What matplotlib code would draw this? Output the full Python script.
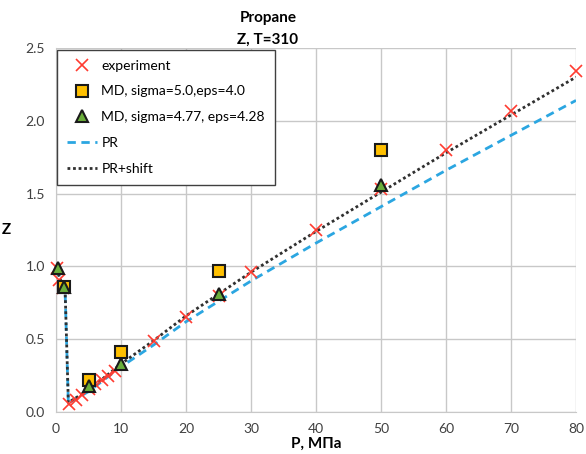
import matplotlib
matplotlib.use("Agg")
import matplotlib.pyplot as plt

plt.rcParams['font.family'] = ['Lato', 'DejaVu Sans']

# Experimental data
exp_P = [0.1, 0.5, 1.0, 2, 3, 4, 5, 6, 7, 8, 9, 15, 20, 25, 30, 40, 50, 60, 70, 80]
exp_Z = [0.99, 0.91, 0.85, 0.055, 0.085, 0.12, 0.155, 0.19, 0.22, 0.25, 0.28,
         0.49, 0.655, 0.80, 0.96, 1.25, 1.53, 1.80, 2.07, 2.34]

# MD, sigma=5.0, eps=4.0
md1_P = [1.3, 5, 10, 25, 50]
md1_Z = [0.86, 0.22, 0.41, 0.97, 1.80]

# MD, sigma=4.77, eps=4.28
md2_P = [0.3, 1.3, 5, 10, 25, 50]
md2_Z = [0.99, 0.86, 0.18, 0.33, 0.81, 1.56]

# PR
pr_P = [0.1, 0.5, 1.0, 1.4, 1.9, 3, 5, 10, 15, 20, 25, 30, 40, 50, 60, 70, 80]
pr_Z = [0.985, 0.93, 0.87, 0.83, 0.06, 0.09, 0.14, 0.31, 0.46, 0.62, 0.76, 0.90,
        1.16, 1.41, 1.66, 1.90, 2.14]

# PR+shift
prs_P = [0.1, 0.5, 1.0, 1.4, 1.9, 3, 5, 10, 15, 20, 25, 30, 40, 50, 60, 70, 80]
prs_Z = [0.985, 0.93, 0.87, 0.84, 0.065, 0.096, 0.15, 0.33, 0.49, 0.66, 0.81, 0.96,
         1.24, 1.51, 1.78, 2.04, 2.30]

x_ticks = [0, 10, 20, 30, 40, 50, 60, 70, 80]
y_ticks = [0.0, 0.5, 1.0, 1.5, 2.0, 2.5]

fig = plt.figure(figsize=(5.86, 4.54), dpi=100)
ax = fig.add_axes([56/586, 1 - 412/454, 520/586, 364/454])

ax.plot(pr_P, pr_Z, linestyle=(0, (3, 2)), color='#2BA6E1', lw=2.0, label='PR', zorder=3)
ax.plot(prs_P, prs_Z, linestyle=(0, (1, 1)), color='#303030', lw=2.0, label='PR+shift', zorder=3)
ax.plot(exp_P, exp_Z, linestyle='none', marker='x', color='#FF3B30', ms=9, mew=1.2,
        label='experiment', zorder=4, clip_on=False)
ax.plot(md1_P, md1_Z, linestyle='none', marker='s', mfc='#FFC000', mec='#1a1a1a', ms=8.5, mew=1.5,
        label='MD, sigma=5.0,eps=4.0', zorder=5, clip_on=False)
ax.plot(md2_P, md2_Z, linestyle='none', marker='^', mfc='#6AAE3A', mec='#1a1a1a', ms=8.5, mew=1.5,
        label='MD, sigma=4.77, eps=4.28', zorder=6, clip_on=False)

ax.set_xlim(0, 80)
ax.set_ylim(0, 2.5)
ax.set_xticks(x_ticks)
ax.set_yticks(y_ticks)
ax.set_yticklabels([f'{v:.1f}' for v in y_ticks])
ax.grid(True, color='#c8c8c8', lw=1.0)
ax.set_axisbelow(True)
for s in ['top', 'right']:
    ax.spines[s].set_visible(False)
for s in ['left', 'bottom']:
    ax.spines[s].set_color('#c8c8c8')
ax.tick_params(length=0, labelsize=10, colors='#404040', pad=8)

ax.set_xlabel('P, МПа', fontsize=11, fontweight='bold', labelpad=1)
ax.set_ylabel('Z', fontsize=11, fontweight='bold', rotation=0, labelpad=14, va='center')

fig.text(268/586, 1 - 18/454, 'Propane', ha='center', va='center', fontsize=11, fontweight='bold')
fig.text(268/586, 1 - 40/454, 'Z, T=310', ha='center', va='center', fontsize=11, fontweight='bold')

h, l = ax.get_legend_handles_labels()
order = [2, 3, 4, 0, 1]
leg = ax.legend([h[i] for i in order], [l[i] for i in order], loc='upper left',
                bbox_to_anchor=(0.002, 0.995), fancybox=False, framealpha=1,
                edgecolor='#404040', fontsize=10, labelspacing=1.0, handlelength=2.2,
                handletextpad=0.3, borderpad=0.7, borderaxespad=0)
leg.get_frame().set_linewidth(1.0)

fig.savefig('out.png', dpi=100)
